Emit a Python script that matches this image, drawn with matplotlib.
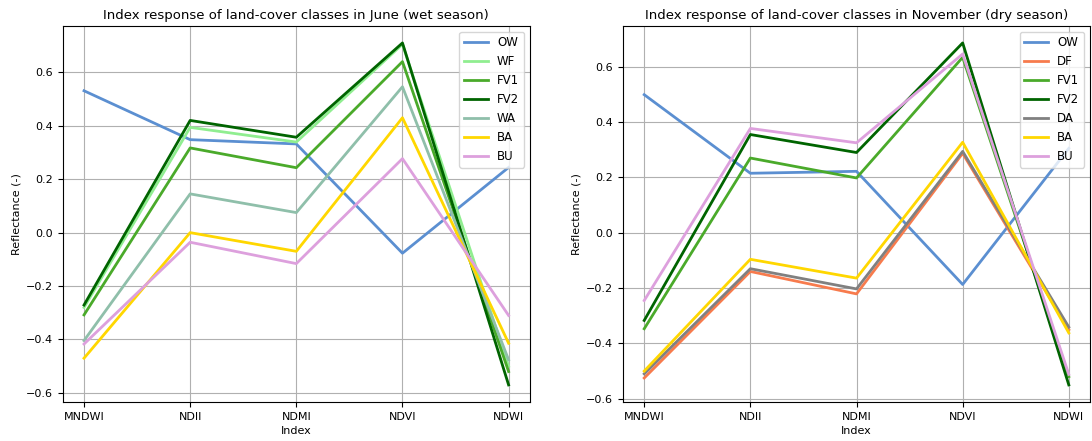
import matplotlib
matplotlib.use("Agg")
import matplotlib.pyplot as plt

indices = ["MNDWI", "NDII", "NDMI", "NDVI", "NDWI"]

# June (wet season)
june_classes = ["OW", "WF", "FV1", "FV2", "WA", "BA", "BU"]
june_ow = [0.531, 0.348, 0.332, -0.077, 0.244]
june_wf = [-0.28, 0.394, 0.339, 0.705, -0.50]
june_fv1 = [-0.308, 0.317, 0.243, 0.64, -0.52]
june_fv2 = [-0.271, 0.420, 0.357, 0.71, -0.57]
june_wa = [-0.404, 0.145, 0.075, 0.546, -0.476]
june_ba = [-0.470, 0.0, -0.070, 0.43, -0.414]
june_bu = [-0.417, -0.036, -0.116, 0.277, -0.31]

# November (dry season)
nov_classes = ["OW", "DF", "FV1", "FV2", "DA", "BA", "BU"]
nov_ow = [0.499, 0.215, 0.222, -0.187, 0.305]
nov_df = [-0.525, -0.14, -0.221, 0.287, -0.35]
nov_fv1 = [-0.347, 0.27, 0.198, 0.634, -0.52]
nov_fv2 = [-0.317, 0.355, 0.29, 0.686, -0.55]
nov_da = [-0.51, -0.13, -0.203, 0.294, -0.341]
nov_ba = [-0.50, -0.096, -0.164, 0.327, -0.362]
nov_bu = [-0.245, 0.377, 0.325, 0.646, -0.512]

colors = {
    "OW": "#5b8fd1",
    "WF": "#90ee90",
    "FV1": "#4aaa2a",
    "FV2": "#006400",
    "WA": "#8fbfaa",
    "BA": "#ffd700",
    "BU": "#dda0dd",
    "DF": "#f77b4d",
    "DA": "#808080",
}

june = [june_ow, june_wf, june_fv1, june_fv2, june_wa, june_ba, june_bu]
nov = [nov_ow, nov_df, nov_fv1, nov_fv2, nov_da, nov_ba, nov_bu]

fig = plt.figure(figsize=(10.92, 4.41), dpi=100)
ax1 = fig.add_axes([0.0575, 0.0884, 0.4277, 0.853])
ax2 = fig.add_axes([0.5705, 0.0884, 0.4277, 0.853])

panels = [
    (ax1, june_classes, june, "Index response of land-cover classes in June (wet season)"),
    (ax2, nov_classes, nov, "Index response of land-cover classes in November (dry season)"),
]

for ax, classes, series, title in panels:
    for name, vals in zip(classes, series):
        ax.plot(indices, vals, color=colors[name], lw=2, label=name)
    ax.set_title(title, fontsize=9.5, pad=5)
    ax.set_xlabel("Index", fontsize=8, labelpad=3)
    ax.set_ylabel("Reflectance (-)", fontsize=8, labelpad=3)
    ax.tick_params(labelsize=8)
    ax.grid(True)
    ax.legend(loc="upper right", fontsize=8.5)

fig.savefig("out.png", dpi=100)
